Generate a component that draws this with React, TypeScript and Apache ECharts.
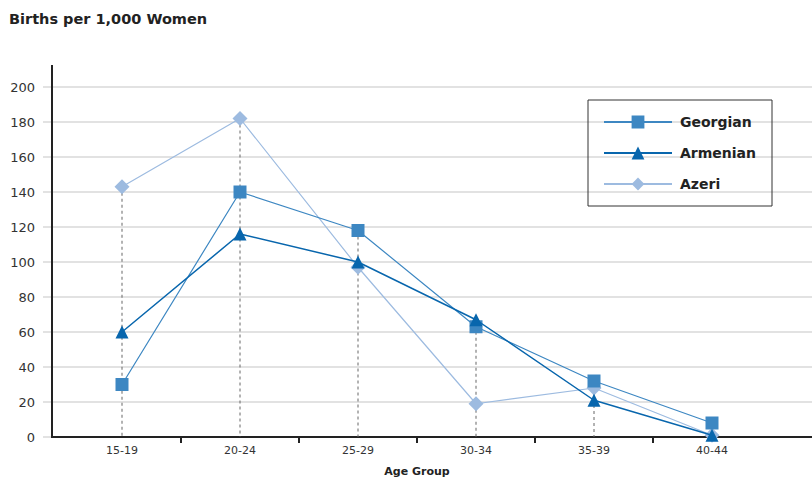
import React, { useEffect, useRef } from "react";
import * as echarts from "echarts";

const categories = ["15-19", "20-24", "25-29", "30-34", "35-39", "40-44"];
const georgian = [30, 140, 118, 63, 32, 8];
const armenian = [60, 116, 100, 67, 21, 1];
const azeri = [143, 182, 97, 19, 28, 1];
const seriesNames = ["Georgian", "Armenian", "Azeri"];
const yMin = 0;
const yMax = 200;
const yInterval = 20;

const FONT = "DejaVu Sans, Verdana, sans-serif";

export default function App() {
  const ref = useRef<HTMLDivElement>(null);

  useEffect(() => {
    if (!ref.current) return;
    const chart = echarts.init(ref.current, null, { renderer: "svg" });

    const maxes = categories.map((_, i) =>
      Math.max(georgian[i], armenian[i], azeri[i])
    );
    const dropData = maxes.map((m, i) => [i, m]);

    const gridBase = {
      top: 87,
      bottom: 40,
      containLabel: false,
      outerBoundsMode: "none",
    };

    const option: any = {
      animation: false,
      backgroundColor: "#ffffff",
      textStyle: { fontFamily: FONT },
      title: {
        text: "Births per 1,000 Women",
        left: 9,
        top: 11,
        padding: 0,
        textStyle: {
          fontFamily: FONT,
          fontSize: 14.5,
          fontWeight: "bold",
          color: "#222222",
        },
      },
      legend: {
        orient: "vertical",
        left: 588,
        top: 100,
        padding: [15, 16, 15, 15],
        borderColor: "#333333",
        borderWidth: 1,
        itemWidth: 68,
        itemHeight: 16,
        itemGap: 17,
        align: "left",
        data: seriesNames,
        textStyle: {
          fontFamily: FONT,
          fontSize: 14,
          fontWeight: "bold",
          color: "#222222",
          padding: [0, 0, 0, 3],
        },
      },
      grid: [
        { ...gridBase, left: 52, right: 0 },
        { ...gridBase, left: 63, right: 41 },
        { ...gridBase, left: 181, right: 159 },
      ],
      xAxis: [
        {
          type: "value",
          gridIndex: 0,
          min: 0,
          max: 1,
          axisLine: {
            show: true,
            onZero: false,
            lineStyle: { color: "#222222", width: 2 },
          },
          axisTick: { show: false },
          axisLabel: { show: false },
          splitLine: { show: false },
        },
        {
          type: "category",
          gridIndex: 1,
          data: categories,
          boundaryGap: true,
          axisLine: { show: false },
          axisTick: { show: false },
          axisLabel: {
            margin: 8,
            fontFamily: FONT,
            fontSize: 11,
            color: "#333333",
          },
          name: "Age Group",
          nameLocation: "middle",
          nameGap: 29,
          nameTextStyle: {
            fontFamily: FONT,
            fontSize: 11,
            fontWeight: "bold",
            color: "#222222",
          },
        },
        {
          type: "category",
          gridIndex: 2,
          data: ["", "", "", "", ""],
          boundaryGap: false,
          axisLine: { show: false },
          axisTick: {
            show: true,
            length: 6,
            lineStyle: { color: "#222222", width: 2 },
          },
          axisLabel: { show: false },
          splitLine: { show: false },
        },
      ],
      yAxis: [
        {
          type: "value",
          gridIndex: 0,
          min: yMin,
          max: yMax,
          interval: yInterval,
          axisLine: { show: false },
          axisTick: {
            show: true,
            length: 9,
            lineStyle: { color: "#d9d9d9", width: 1.5 },
          },
          axisLabel: {
            margin: 17,
            fontFamily: FONT,
            fontSize: 13,
            color: "#333333",
          },
          splitLine: { lineStyle: { color: "#d9d9d9", width: 1.5 } },
        },
        {
          type: "value",
          gridIndex: 1,
          min: yMin,
          max: yMax,
          interval: yInterval,
          show: false,
        },
        {
          type: "value",
          gridIndex: 2,
          min: yMin,
          max: yMax,
          show: false,
        },
      ],
      graphic: [
        {
          type: "line",
          shape: { x1: 52, y1: 65, x2: 52, y2: 438 },
          style: { stroke: "#222222", lineWidth: 2 },
          z: 100,
        },
      ],
      series: [
        {
          type: "custom",
          name: "drop",
          xAxisIndex: 1,
          yAxisIndex: 1,
          data: dropData,
          z: 1,
          silent: true,
          renderItem: (params: any, api: any) => {
            const idx = api.value(0);
            const top = api.coord([idx, api.value(1)]);
            const bottom = api.coord([idx, 0]);
            return {
              type: "line",
              shape: { x1: top[0], y1: top[1], x2: bottom[0], y2: bottom[1] },
              style: { stroke: "#666666", lineWidth: 1, lineDash: [3, 3] },
            };
          },
        },
        {
          name: "Georgian",
          type: "line",
          xAxisIndex: 1,
          yAxisIndex: 1,
          data: georgian,
          symbol: "rect",
          symbolSize: 13,
          z: 3,
          itemStyle: { color: "#3d87c2" },
          lineStyle: { color: "#3d87c2", width: 1.2 },
        },
        {
          name: "Armenian",
          type: "line",
          xAxisIndex: 1,
          yAxisIndex: 1,
          data: armenian,
          symbol: "triangle",
          symbolSize: 13,
          z: 4,
          itemStyle: { color: "#0866ad" },
          lineStyle: { color: "#0866ad", width: 1.5 },
        },
        {
          name: "Azeri",
          type: "line",
          xAxisIndex: 1,
          yAxisIndex: 1,
          data: azeri,
          symbol: "diamond",
          symbolSize: 15,
          z: 2,
          itemStyle: { color: "#9dbbe0" },
          lineStyle: { color: "#9dbbe0", width: 1.2 },
        },
      ],
    };

    chart.setOption(option);
    return () => chart.dispose();
  }, []);

  return <div ref={ref} style={{ width: 812, height: 477, position: "absolute", left: 0, top: 0 }} />;
}
